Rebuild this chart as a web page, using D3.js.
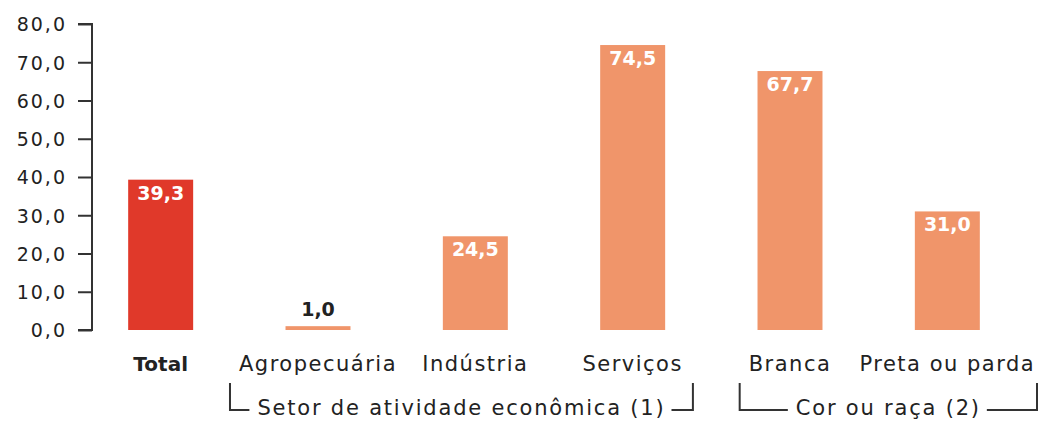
<!DOCTYPE html>
<html>
<head>
<meta charset="utf-8">
<script src="https://cdn.jsdelivr.net/npm/d3@7"></script>
<style>
  body { margin: 0; background: #fff; }
  svg text { font-family: "DejaVu Sans", sans-serif; }
</style>
</head>
<body>
<div id="chart"></div>
<script>
const categories = ['Total', 'Agropecuária', 'Indústria', 'Serviços', 'Branca', 'Preta ou parda']
const values = [39.3, 1.0, 24.5, 74.5, 67.7, 31.0]
const yTicks = [0, 10, 20, 30, 40, 50, 60, 70, 80]
const groups = [
    { label: 'Setor de atividade econômica (1)', members: ['Agropecuária', 'Indústria', 'Serviços'] },
    { label: 'Cor ou raça (2)', members: ['Branca', 'Preta ou parda'] },
]

const fmt = (v) => d3.format('.1f')(v).replace('.', ',')
const width = 1043
const height = 422
const axisX = 92

const svg = d3.select('#chart')
.append('svg')
    .attr('width', width)
    .attr('height', height)

const xScale = d3.scaleBand()
    .domain(categories)
    .range([82, 1026])
    .paddingInner(0.587)
    .paddingOuter(0.2935)

const yScale = d3.scaleLinear()
    .domain([0, 80])
    .range([330, 24])

// y axis
const yAxis = d3.axisLeft(yScale)
    .tickValues(yTicks)
    .tickFormat(fmt)
    .tickSize(14)
    .tickPadding(11)

const yLegend = svg.append('g')
    .attr('transform', `translate(${axisX},0)`)
    .call(yAxis)

yLegend.select('.domain')
    .attr('d', `M-14,${yScale(80)}H0V${yScale(0)}H-14`)
    .attr('stroke', '#333')
    .attr('stroke-width', 2)
yLegend.selectAll('.tick line')
    .attr('stroke', '#333')
    .attr('stroke-width', 2)
yLegend.selectAll('.tick text')
    .attr('fill', '#222')
    .attr('dy', '0.36em')
    .style('font-size', '19px')
    .style('letter-spacing', '2px')
    .style('font-family', '"DejaVu Sans", sans-serif')

// bars
svg.selectAll('rect.bar')
.data(categories)
.enter()
.append('rect')
    .attr('class', 'bar')
    .attr('x', (d) => xScale(d))
    .attr('width', xScale.bandwidth())
    .attr('y', (d, i) => yScale(values[i]))
    .attr('height', (d, i) => yScale(0) - yScale(values[i]))
    .attr('fill', (d, i) => i === 0 ? '#e0392a' : '#f0956a')

// value labels
svg.selectAll('text.value')
.data(categories)
.enter()
.append('text')
    .attr('class', 'value')
    .attr('x', (d) => xScale(d) + xScale.bandwidth() / 2)
    .attr('y', (d, i) => values[i] < 5 ? yScale(values[i]) - 10 : yScale(values[i]) + 20)
    .attr('text-anchor', 'middle')
    .attr('fill', (d, i) => values[i] < 5 ? '#222' : '#fff')
    .style('font-size', '19px')
    .style('font-weight', 700)
    .text((d, i) => fmt(values[i]))

// category labels
const catLabels = svg.selectAll('text.cat')
.data(categories)
.enter()
.append('text')
    .attr('class', 'cat')
    .attr('x', (d) => xScale(d) + xScale.bandwidth() / 2)
    .attr('y', 371)
    .attr('text-anchor', 'middle')
    .attr('fill', '#222')
    .style('font-size', (d, i) => i === 0 ? '20px' : '21px')
    .style('letter-spacing', (d, i) => i === 0 ? '0px' : '1.5px')
    .style('font-weight', (d, i) => i === 0 ? 700 : 400)
    .text((d) => d)

// group brackets
groups.forEach((g) => {
    const boxes = catLabels.filter((d) => g.members.includes(d)).nodes().map((n) => n.getBBox())
    const left = d3.min(boxes, (b) => b.x) - 9
    const right = Math.min(d3.max(boxes, (b) => b.x + b.width) + 10, width - 6)
    const mid = (left + right) / 2
    const yLine = 410
    const label = svg.append('text')
        .attr('x', mid)
        .attr('y', yLine + 5)
        .attr('text-anchor', 'middle')
        .attr('fill', '#222')
        .style('font-size', '21px')
        .style('letter-spacing', '1.8px')
        .text(g.label)
    const lb = label.node().getBBox()
    svg.append('path')
        .attr('d', `M${left},383V${yLine}H${lb.x - 8}`)
        .attr('fill', 'none')
        .attr('stroke', '#333')
        .attr('stroke-width', 2)
    svg.append('path')
        .attr('d', `M${lb.x + lb.width + 6},${yLine}H${right}V383`)
        .attr('fill', 'none')
        .attr('stroke', '#333')
        .attr('stroke-width', 2)
})
</script>
</body>
</html>
